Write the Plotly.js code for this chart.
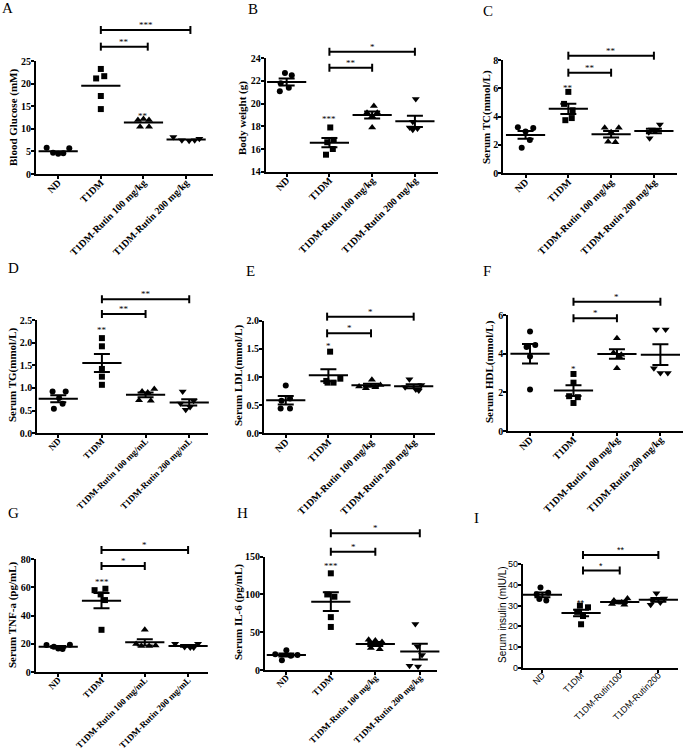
<!DOCTYPE html>
<html>
<head>
<meta charset="utf-8">
<script src="https://cdn.plot.ly/plotly-3.0.1.min.js"></script>
<style>
  html, body { margin: 0; padding: 0; background: #fff; }
  #chart { width: 685px; height: 752px; }
</style>
</head>
<body>
<div id="chart"></div>
<script>
// Groups, in plotting order. Panel I uses the short labels, D and G say mg/mL.
const GROUPS_KG = ["ND", "T1DM", "T1DM-Rutin 100 mg/kg", "T1DM-Rutin 200 mg/kg"];
const GROUPS_ML = ["ND", "T1DM", "T1DM-Rutin 100 mg/mL", "T1DM-Rutin 200 mg/mL"];
const GROUPS_SHORT = ["ND", "T1DM", "T1DM-Rutin100", "T1DM-Rutin200"];
const SYMBOLS = ["circle", "square", "triangle-up", "triangle-down"];

// Per-animal values, one row per group (ND, T1DM, Rutin 100, Rutin 200)
const glucose = [[5.8, 4.7, 4.5, 4.6, 5.7], [23.3, 21.2, 21.7, 17.3, 14.4], [12.0, 12.2, 12.0, 10.5, 10.5], [8.2, 7.5, 7.4, 7.5, 7.8]];
const bodyWeight = [[22.7, 22.5, 21.8, 21.4, 21.1], [17.9, 16.8, 16.6, 16.0, 15.5], [19.8, 19.2, 19.2, 18.9, 17.9], [20.4, 18.4, 17.9, 17.8, 17.7]];
const serumTC = [[3.25, 3.2, 2.95, 2.35, 1.8], [5.75, 4.9, 4.45, 3.9, 3.75], [3.22, 3.22, 2.9, 2.23, 2.2], [3.45, 3.1, 3.0, 2.9, 2.47]];
const serumTG = [[0.92, 0.92, 0.78, 0.65, 0.54], [2.1, 1.92, 1.42, 1.25, 1.07], [0.98, 0.92, 0.9, 0.73, 0.72], [0.92, 0.72, 0.66, 0.58, 0.52]];
const serumLDL = [[0.85, 0.62, 0.58, 0.44, 0.44], [1.45, 0.97, 0.93, 0.9, 0.9], [0.95, 0.86, 0.83, 0.82, 0.8], [0.96, 0.86, 0.82, 0.78, 0.76]];
const serumHDL = [[5.15, 4.45, 4.35, 3.85, 2.15], [2.95, 2.5, 1.8, 1.75, 1.45], [4.8, 4.05, 3.95, 3.85, 3.25], [5.25, 5.25, 3.25, 3.0, 3.0]];
const tnfA = [[19.3, 18.0, 16.8, 16.5, 19.5], [58, 59, 55, 51, 30], [30, 20, 19, 18.5, 18.5], [20.2, 20.2, 17.8, 17.5, 17.5]];
const il6 = [[26, 21, 20, 19, 13], [128, 100, 97, 70, 57], [40, 39, 37, 29, 27.5], [61, 31, 20, 5.5, 4.5]];
const insulin = [[38.8, 36.2, 35.5, 33.2, 32.5], [30, 29.2, 27, 25, 21], [33.5, 32.5, 31.5, 30.8, 30.5], [36, 33.5, 32.5, 31.5, 30.5]];

// horizontal scatter of the dots inside each group (category units)
const glucoseJitter = [[-0.27, -0.12, 0, 0.12, 0.26], [0, -0.11, 0.08, 0, 0], [-0.13, 0, 0.13, -0.08, 0.13], [-0.3, -0.1, 0.07, 0.2, 0.31]];
const bodyWeightJitter = [[-0.04, 0.12, -0.14, 0.05, -0.16], [0.02, 0.1, -0.05, 0.08, -0.08], [0.04, -0.12, 0.12, 0, 0], [0.02, -0.05, -0.12, 0.06, -0.05]];
const serumTCJitter = [[-0.18, 0.18, 0, 0.1, -0.09], [0, -0.1, 0.1, 0.08, -0.07], [-0.15, 0.18, 0, -0.07, 0.1], [0.14, -0.05, 0.05, -0.12, -0.1]];
const serumTGJitter = [[-0.13, 0.17, 0.02, 0.1, -0.1], [0, 0, 0, 0, 0], [0.2, -0.08, 0.05, -0.15, 0.12], [-0.15, 0.1, -0.2, 0.02, -0.08]];
const serumLDLJitter = [[0, 0.1, -0.1, -0.12, 0.1], [0.04, 0.28, -0.05, 0.12, -0.02], [0.02, 0.22, -0.28, 0.1, -0.12], [-0.1, 0.18, -0.2, 0.05, 0.12]];
const serumHDLJitter = [[0, 0.12, -0.08, 0, 0], [0, 0, -0.1, 0.1, 0], [0, -0.08, 0.1, 0.05, 0], [-0.1, 0.12, -0.15, 0, 0.17]];
const tnfAJitter = [[-0.27, -0.1, 0, 0.1, 0.27], [-0.16, 0.09, -0.02, 0.08, 0], [0, -0.2, 0.25, -0.08, 0.1], [-0.3, 0.23, -0.08, 0.05, 0.13]];
const il6Jitter = [[0, -0.25, 0.25, 0.1, -0.1], [0, -0.08, 0.08, 0, 0], [-0.15, 0, 0.15, -0.1, 0.1], [-0.1, -0.05, 0.05, -0.23, -0.04]];
const insulinJitter = [[-0.05, 0.15, -0.15, -0.08, 0.1], [-0.03, 0.18, -0.1, 0.05, 0], [0.2, -0.15, 0.05, -0.2, 0.12], [-0.05, 0.15, -0.15, 0.05, -0.2]];

const W = 685, H = 752;
const SERIF = "Liberation Serif, Times New Roman, serif";
const SANS = "Liberation Sans, Arial, sans-serif";

// Panel frames in page pixels: [left, right, top, bottom]; titleAt = [x, y] centre of the y title;
// brackets: [from group, to group, height as fraction of axis height, label]; stars: [group, value, label]
const PANELS = [
  { letter: "A", at: [7, 8], box: [36, 213, 61.3, 174], y: [0, 25], dtick: 5, x: [-0.52, 3.63], noSem: true,
    title: "Blood Glucose (mM)", titleAt: [13, 118], cats: GROUPS_KG, values: glucose, jitter: glucoseJitter,
    brackets: [[1, 2.1, 1.13, "**"], [1, 3.1, 1.278, "***"]], stars: [[1, 25.1, "**"], [2, 13.2, "**"]] },
  { letter: "B", at: [253, 9], box: [265.7, 438, 58.3, 171.7], y: [14, 24], dtick: 2, x: [-0.49, 3.54],
    title: "Body weight (g)", titleAt: [242, 118], cats: GROUPS_KG, values: bodyWeight, jitter: bodyWeightJitter,
    brackets: [[1, 2, 0.917, "**"], [1, 3, 1.058, "*"]], stars: [[1, 18.8, "***"]] },
  { letter: "C", at: [488, 11], box: [503.3, 677, 60, 173.3], y: [0, 8], dtick: 2, x: [-0.52, 3.54],
    title: "Serum TC(mmol/L)", titleAt: [486, 117], cats: GROUPS_KG, values: serumTC, jitter: serumTCJitter,
    brackets: [[1, 2, 0.888, "**"], [1, 3, 1.038, "**"]], stars: [[1, 6.17, "**"]] },
  { letter: "D", at: [13, 268], box: [37.3, 208, 320, 433.3], y: [0, 2.5], dtick: 0.5, fmt: ".1f", x: [-0.48, 3.43],
    title: "Serum TG(mmol/L)", titleAt: [12, 375], cats: GROUPS_ML, values: serumTG, jitter: serumTGJitter, catSize: 9,
    brackets: [[1, 2, 1.053, "**"], [1, 3, 1.183, "**"]], stars: [[1, 2.32, "**"]] },
  { letter: "E", at: [250, 271], box: [264, 435, 320.7, 433.3], y: [0, 2], dtick: 0.5, fmt: ".1f", x: [-0.51, 3.5],
    title: "Serum LDL(mmol/L)", titleAt: [238, 376], cats: GROUPS_KG, values: serumLDL, jitter: serumLDLJitter,
    brackets: [[0.97, 2, 0.888, "*"], [0.97, 3, 1.036, "*"]], stars: [[1, 1.58, "*"]] },
  { letter: "F", at: [487, 271], box: [508.3, 683, 315, 431], y: [0, 6], dtick: 2, x: [-0.5, 3.52],
    title: "Serum HDL(mmol/L)", titleAt: [489, 372], cats: GROUPS_KG, values: serumHDL, jitter: serumHDLJitter,
    brackets: [[1, 2, 0.972, "*"], [1, 3, 1.115, "*"]], stars: [[1, 3.33, "*"]] },
  { letter: "G", at: [13, 513], box: [35.7, 208, 559, 672.3], y: [0, 80], dtick: 20, x: [-0.52, 3.46],
    title: "Serum TNF-a (pg/mL)", titleAt: [12, 615], cats: GROUPS_ML, values: tnfA, jitter: tnfAJitter, catSize: 9,
    brackets: [[1, 2, 0.939, "*"], [1, 3, 1.08, "*"]], stars: [[1, 65.2, "***"]] },
  { letter: "H", at: [242, 513], box: [265, 436.7, 556.7, 670], y: [0, 150], dtick: 50, x: [-0.48, 3.38],
    title: "Serum IL-6 (pg/mL)", titleAt: [238, 612], cats: GROUPS_KG, values: il6, jitter: il6Jitter, catSize: 9,
    brackets: [[1, 2, 1.044, "*"], [1, 3, 1.206, "*"]], stars: [[1, 141, "***"]] },
  { letter: "I", at: [476, 518], box: [522.7, 677.7, 564.3, 667.7], y: [0, 50], dtick: 10, x: [-0.51, 3.5],
    title: "Serum insulin (mIU/L)", titleAt: [502, 615], cats: GROUPS_SHORT, values: insulin, jitter: insulinJitter, sans: true,
    brackets: [[1.05, 2, 0.94, "*"], [1.05, 3, 1.09, "**"]], stars: [[1, 32.4, "**"]] },
];

const mean = a => a.reduce((s, v) => s + v, 0) / a.length;
const sem = a => {
  const m = mean(a);
  return Math.sqrt(a.reduce((s, v) => s + (v - m) ** 2, 0) / (a.length - 1) / a.length);
};

const traces = [], shapes = [], annotations = [];
const layout = {
  width: W, height: H, margin: { l: 0, r: 0, t: 0, b: 0 },
  paper_bgcolor: "#fff", plot_bgcolor: "#fff", showlegend: false, hovermode: false,
};

PANELS.forEach((p, i) => {
  const n = i === 0 ? "" : String(i + 1);
  const xa = "x" + n, ya = "y" + n;
  const [L, R, T, B] = p.box;
  const family = p.sans ? SANS : SERIF;
  const weight = p.sans ? "normal" : "bold";

  p.values.forEach((vals, g) => {
    traces.push({
      x: vals.map((_, k) => g + p.jitter[g][k]), y: vals, type: "scatter", mode: "markers",
      marker: { symbol: SYMBOLS[g], size: g >= 2 ? 7 : 6, color: "#000" },
      xaxis: xa, yaxis: ya, cliponaxis: false, hoverinfo: "skip",
    });
  });

  // mean line, with SEM whiskers except in panel A
  traces.push({
    x: p.values.map((_, g) => g), y: p.values.map(mean), type: "scatter", mode: "markers",
    marker: { symbol: "line-ew", size: 28, color: "#000", line: { width: 2, color: "#000" } },
    error_y: { type: "data", array: p.values.map(sem), width: 8, thickness: 2, color: "#000", visible: !p.noSem },
    xaxis: xa, yaxis: ya, cliponaxis: false, hoverinfo: "skip",
  });

  layout["xaxis" + n] = {
    domain: [L / W, R / W], range: p.x, anchor: ya, fixedrange: true,
    tickmode: "array", tickvals: p.cats.map((_, g) => g), ticktext: p.cats, tickangle: -45,
    ticks: "outside", ticklen: 3, tickwidth: 2, tickcolor: "#000", ticklabelstandoff: -6,
    showline: true, linewidth: 2, linecolor: "#000", showgrid: false, zeroline: false,
    tickfont: { family, size: p.sans ? 9 : (p.catSize || 10), color: "#000", weight },
  };
  layout["yaxis" + n] = {
    domain: [1 - B / H, 1 - T / H], range: p.y, anchor: xa, fixedrange: true,
    dtick: p.dtick, tick0: p.y[0], tickformat: p.fmt || "",
    ticks: "outside", ticklen: 3, tickwidth: 2, tickcolor: "#000", ticklabelstandoff: -2,
    showline: true, linewidth: 2, linecolor: "#000", showgrid: false, zeroline: false,
    tickfont: { family, size: p.sans ? 9 : 10, color: "#000", weight },
  };

  annotations.push({
    xref: "paper", yref: "paper", x: p.titleAt[0] / W, y: 1 - p.titleAt[1] / H,
    xanchor: "center", yanchor: "middle", textangle: -90, showarrow: false, text: p.title,
    font: { family, size: p.sans ? 10 : 11, color: "#000", weight },
  });

  p.brackets.forEach(([x0, x1, h, label]) => {
    const line = { color: "#000", width: 2 };
    shapes.push({ type: "line", xref: xa, yref: ya + " domain", x0, x1, y0: h, y1: h, line });
    [x0, x1].forEach(xc => shapes.push({
      type: "line", xref: xa, yref: ya + " domain", ysizemode: "pixel", yanchor: h,
      x0: xc, x1: xc, y0: -4, y1: 4, line,
    }));
    annotations.push({
      xref: xa, yref: ya + " domain", x: (x0 + x1) / 2, y: h, yanchor: "bottom", yshift: -2,
      text: label, showarrow: false, font: { family, size: 9, color: "#000" },
    });
  });

  p.stars.forEach(([g, v, label]) => annotations.push({
    xref: xa, yref: ya, x: g, y: v, yanchor: "middle", yshift: -2,
    text: label, showarrow: false, font: { family, size: 9, color: "#000" },
  }));

  annotations.push({
    xref: "paper", yref: "paper", x: p.at[0] / W, y: 1 - p.at[1] / H, xanchor: "center", yanchor: "middle",
    text: p.letter, showarrow: false, font: { family: SERIF, size: 15, color: "#000" },
  });
});

layout.shapes = shapes;
layout.annotations = annotations;

Plotly.newPlot("chart", traces, layout, { staticPlot: true, displayModeBar: false });
</script>
</body>
</html>
